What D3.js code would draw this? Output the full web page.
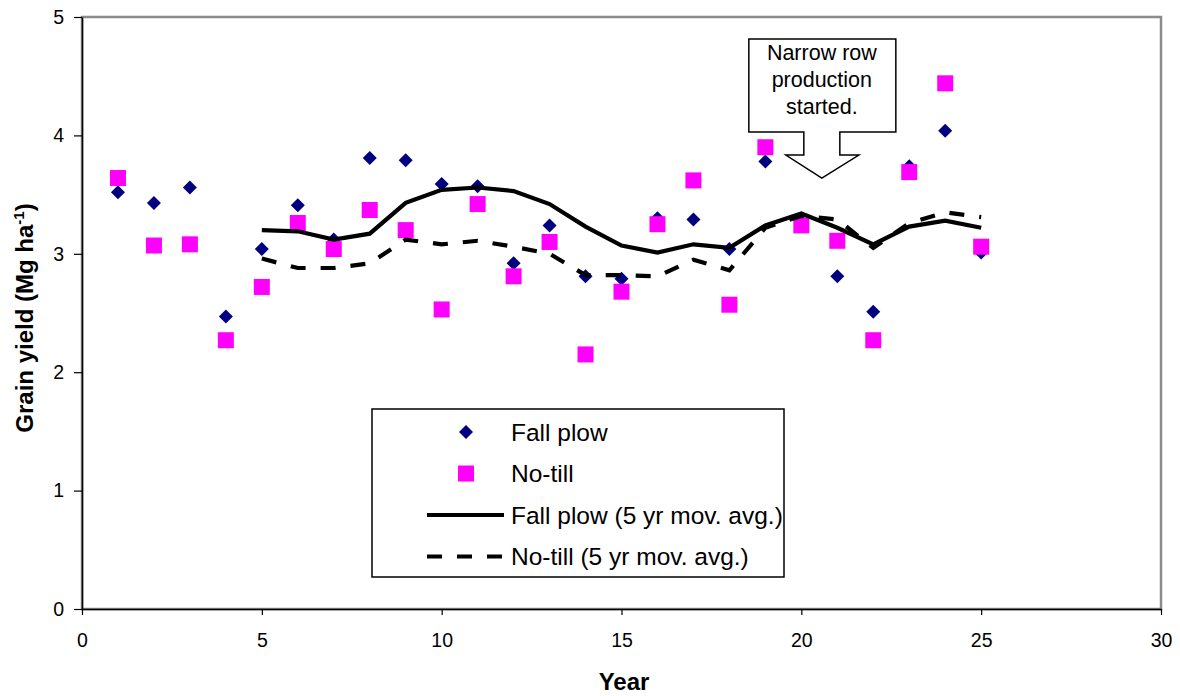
<!DOCTYPE html>
<html>
<head>
<meta charset="utf-8">
<script src="https://cdn.jsdelivr.net/npm/d3@7"></script>
<style>
  body { margin: 0; background: #fff; }
  svg { display: block; font-family: "Liberation Sans", Arial, sans-serif; }
</style>
</head>
<body>
<script>
// data
const years = [1,2,3,4,5,6,7,8,9,10,11,12,13,14,15,16,17,18,19,20,21,22,23,24,25];
const fallPlow = [3.52,3.43,3.56,2.47,3.04,3.41,3.12,3.81,3.79,3.59,3.57,2.92,3.24,2.81,2.79,3.30,3.29,3.04,3.78,3.27,2.81,2.51,3.74,4.04,3.01];
const noTill   = [3.64,3.07,3.08,2.27,2.72,3.26,3.04,3.37,3.20,2.53,3.42,2.81,3.10,2.15,2.68,3.25,3.62,2.57,3.90,3.24,3.11,2.27,3.69,4.44,3.06];
const avgYears = [5,6,7,8,9,10,11,12,13,14,15,16,17,18,19,20,21,22,23,24,25];
const fallPlowAvg = [3.20,3.19,3.12,3.17,3.43,3.54,3.56,3.53,3.42,3.23,3.07,3.01,3.08,3.05,3.24,3.34,3.22,3.08,3.23,3.28,3.22];
const noTillAvg   = [2.96,2.88,2.88,2.92,3.12,3.08,3.11,3.06,3.00,2.82,2.82,2.81,2.95,2.86,3.22,3.32,3.29,3.05,3.26,3.35,3.31];
const xTicks = [0,5,10,15,20,25,30];
const yTicks = [0,1,2,3,4,5];
const legendLabels = ["Fall plow","No-till","Fall plow (5 yr mov. avg.)","No-till (5 yr mov. avg.)"];
const calloutLines = ["Narrow row","production","started."];

const W = 1180, H = 696;
const svg = d3.select("body").append("svg").attr("width", W).attr("height", H);

const x = d3.scaleLinear().domain([0, 30]).range([82, 1161]);
const y = d3.scaleLinear().domain([0, 5]).range([609, 17]);

// plot area border (grey top/right)
svg.append("rect")
  .attr("x", x(0)).attr("y", y(5))
  .attr("width", x(30) - x(0)).attr("height", y(0) - y(5))
  .attr("fill", "none").attr("stroke", "#8c8c8c").attr("stroke-width", 2.5);

// axes
const yAxis = svg.append("g")
  .attr("transform", `translate(${x(0)},0)`)
  .call(d3.axisLeft(y).tickValues(yTicks).tickFormat(d3.format("d"))
    .tickSize(8).tickSizeOuter(0).tickPadding(10));
const xAxis = svg.append("g")
  .attr("transform", `translate(0,${y(0)})`)
  .call(d3.axisBottom(x).tickValues(xTicks).tickFormat(d3.format("d"))
    .tickSize(6).tickSizeOuter(0).tickPadding(18));
[xAxis, yAxis].forEach(g => {
  g.select(".domain").attr("stroke", "#000").attr("stroke-width", 1.5);
  g.selectAll(".tick line").attr("stroke", "#000").attr("stroke-width", 1.2);
  g.selectAll("text").attr("fill", "#000").style("font-size", "19.5px")
    .style("font-family", "'Liberation Sans', Arial, sans-serif");
});

// axis titles
svg.append("text")
  .attr("x", 624).attr("y", 690)
  .attr("text-anchor", "middle")
  .style("font-size", "24px").style("font-weight", "bold")
  .text("Year");

const yTitle = svg.append("text")
  .attr("transform", "translate(33,318) rotate(-90)")
  .attr("text-anchor", "middle")
  .style("font-size", "24px").style("font-weight", "bold");
yTitle.append("tspan").text("Grain yield (Mg ha");
yTitle.append("tspan").attr("dy", -9).style("font-size", "15px").text("-1");
yTitle.append("tspan").attr("dy", 9).text(")");

// markers
const diamond = d3.symbol().type(d3.symbolDiamond2).size(125);
svg.append("g").selectAll("path")
  .data(years)
  .join("path")
  .attr("d", diamond)
  .attr("transform", (d, i) => `translate(${x(d)},${y(fallPlow[i])})`)
  .attr("fill", "#000080");

svg.append("g").selectAll("rect")
  .data(years)
  .join("rect")
  .attr("x", (d) => x(d) - 8)
  .attr("y", (d, i) => y(noTill[i]) - 8)
  .attr("width", 16).attr("height", 16)
  .attr("fill", "#ff00ff");

// moving average lines
const line = d3.line().x(d => x(d[0])).y(d => y(d[1]));
svg.append("path")
  .datum(avgYears.map((d, i) => [d, fallPlowAvg[i]]))
  .attr("d", line)
  .attr("fill", "none").attr("stroke", "#000").attr("stroke-width", 4.2);
svg.append("path")
  .datum(avgYears.map((d, i) => [d, noTillAvg[i]]))
  .attr("d", line)
  .attr("fill", "none").attr("stroke", "#000").attr("stroke-width", 4.2)
  .attr("stroke-dasharray", "15,15");

// callout
const tipX = x(20.57), tipY = y(3.64);
const callout = svg.append("g").attr("transform", `translate(${tipX},${tipY})`);
callout.append("path")
  .attr("d", "M-73,-139 H74 V-46 H18 V-23 H37 L0,0 L-36,-23 H-18 V-46 H-73 Z")
  .attr("fill", "#fff").attr("stroke", "#000").attr("stroke-width", 1.5);
callout.selectAll("text")
  .data(calloutLines)
  .join("text")
  .attr("x", 0)
  .attr("y", (d, i) => -118 + i * 27)
  .attr("text-anchor", "middle")
  .style("font-size", "21.5px")
  .text(d => d);

// legend
const legend = svg.append("g").attr("transform", "translate(372,409)");
legend.append("rect")
  .attr("width", 412).attr("height", 168)
  .attr("fill", "#fff").attr("stroke", "#000").attr("stroke-width", 1.5);
const rowY = i => 23 + i * 41.5;
legend.selectAll("text.lab")
  .data(legendLabels)
  .join("text")
  .attr("class", "lab")
  .attr("x", 139)
  .attr("y", (d, i) => rowY(i) + 8.5)
  .style("font-size", "24.5px")
  .text(d => d);
legend.append("path")
  .attr("d", d3.symbol().type(d3.symbolDiamond2).size(125))
  .attr("transform", `translate(94,${rowY(0)})`)
  .attr("fill", "#000080");
legend.append("rect")
  .attr("x", 94 - 8).attr("y", rowY(1) - 8)
  .attr("width", 16).attr("height", 16)
  .attr("fill", "#ff00ff");
legend.append("line")
  .attr("x1", 55).attr("x2", 132).attr("y1", rowY(2)).attr("y2", rowY(2))
  .attr("stroke", "#000").attr("stroke-width", 4.2);
legend.append("line")
  .attr("x1", 55).attr("x2", 132).attr("y1", rowY(3)).attr("y2", rowY(3))
  .attr("stroke", "#000").attr("stroke-width", 4.2)
  .attr("stroke-dasharray", "15,15");
</script>
</body>
</html>
